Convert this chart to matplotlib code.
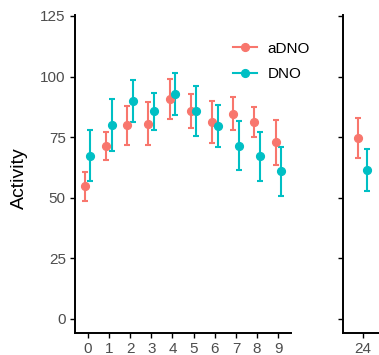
import numpy as np
import matplotlib
matplotlib.use('Agg')
import matplotlib.pyplot as plt
from matplotlib.lines import Line2D

plt.rcParams['font.family'] = ['Liberation Sans', 'DejaVu Sans']

# data
days = [0, 1, 2, 3, 4, 5, 6, 7, 8, 9]
adno_mean = [54.7, 71.4, 79.9, 80.6, 90.6, 85.8, 81.3, 84.7, 81.1, 72.9]
adno_err = [6.0, 5.7, 8.0, 9.0, 8.3, 7.0, 8.7, 6.9, 6.2, 9.2]
dno_mean = [67.3, 79.9, 89.8, 85.7, 92.7, 85.9, 79.7, 71.5, 67.1, 60.9]
dno_err = [10.5, 10.8, 8.7, 7.7, 8.6, 10.3, 8.6, 10.0, 10.1, 10.0]

late_day = [24]
adno_late = [74.5]
adno_late_err = [8.2]
dno_late = [61.5]
dno_late_err = [8.8]

groups = ['aDNO', 'DNO']
colors = ['#F8766D', '#00BFC4']
yticks = [0, 25, 50, 75, 100, 125]

W, H = 379, 355
fig = plt.figure(figsize=(W/100, H/100), dpi=100)

axL = fig.add_axes([75/W, (H-333)/H, (291-75)/W, (333-15)/H])
axR = fig.add_axes([342.5/W, (H-333)/H, 40.4/W, (333-15)/H])

dodge = 0.13
ekw = dict(fmt='o', ms=5.6, elinewidth=1.5, capsize=2.2, capthick=1.5)

d = np.array(days, dtype=float)
axL.errorbar(d - dodge, adno_mean, yerr=adno_err, color=colors[0], **ekw)
axL.errorbar(d + dodge, dno_mean, yerr=dno_err, color=colors[1], **ekw)

dl = np.array(late_day, dtype=float)
axR.errorbar(dl - dodge, adno_late, yerr=adno_late_err, color=colors[0], **ekw)
axR.errorbar(dl + dodge, dno_late, yerr=dno_late_err, color=colors[1], **ekw)

for ax in (axL, axR):
    ax.set_ylim(-5.8, 125.4)
    ax.set_yticks(yticks)
    for s in ['top', 'right']:
        ax.spines[s].set_visible(False)
    for s in ['left', 'bottom']:
        ax.spines[s].set_linewidth(1.4)
    ax.tick_params(length=3.6, width=1.0, labelsize=11, labelcolor='#4D4D4D', pad=3)
    ax.patch.set_visible(False)

axL.set_xlim(-0.6, 9.6)
axL.set_xticks(days)
axR.set_xlim(23.4, 24.6)
axR.set_xticks(late_day)
axR.set_yticklabels([])

fig.text(19/W, 1 - 178/H, 'Activity', rotation=90, ha='center', va='center', fontsize=14)

handles = [Line2D([0], [0], color=c, marker='o', ms=5.6, lw=1.5) for c in colors]
fig.legend(handles, groups, loc='upper left', bbox_to_anchor=(228/W, 1 - 37/H),
           frameon=False, fontsize=11, handlelength=1.6, handletextpad=0.7,
           labelspacing=0.75, borderaxespad=0, borderpad=0.3)

fig.savefig('out.png', dpi=100)
